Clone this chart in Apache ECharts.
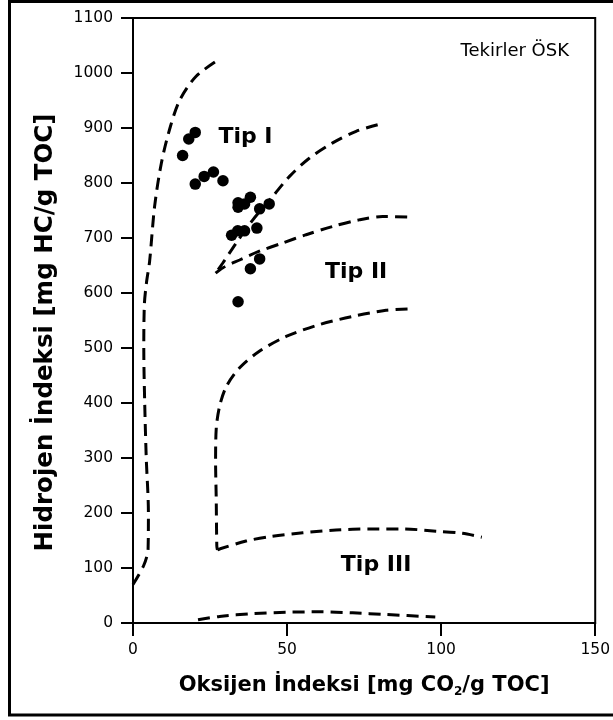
<!DOCTYPE html>
<html>
<head>
<meta charset="utf-8">
<script src="https://cdn.jsdelivr.net/npm/echarts@6/dist/echarts.min.js"></script>
<style>
  html, body { margin: 0; padding: 0; background: #fff; }
  #chart { width: 613px; height: 720px; }
</style>
</head>
<body>
<div id="chart"></div>
<script>
// ---- Data ----
var xTicks = [0, 50, 100, 150];
var yTicks = [0, 100, 200, 300, 400, 500, 600, 700, 800, 900, 1000, 1100];

// Sample points: Oxygen Index (x) and Hydrogen Index (y)
var oxygenIndex   = [20.2, 18.1, 16.1, 20.2, 23.1, 26.1, 29.2, 34.1, 34.1, 36.2, 38.1, 41.1, 44.2, 32.0, 34.0, 36.2, 40.2, 41.1, 38.1, 34.1];
var hydrogenIndex = [892, 880, 850, 798, 812, 820, 804, 764, 756, 762, 774, 753, 762, 705, 713, 713, 718, 662, 644, 584];

// Kerogen-type boundary curves (dashed)
var curveTypeIOuter = [[0,70],[3.5,105],[4.9,135],[5,200],[4.3,300],[3.8,400],[3.5,500],[3.7,580],[4.4,620],[5.4,658],[7,757],[9.2,836],[12,900],[15.2,951],[20.5,994],[28,1025]];
var curveTypeIUpper = [[79.4,906],[72.4,894],[64.8,873],[57.2,845],[50.8,812],[45.4,776],[38.9,733],[33.5,691],[29.2,655],[26.8,636]];
var curveTypeILower = [[26.8,636],[29.2,646],[34.6,660],[41,676],[48.6,691],[56.2,706],[64.8,721],[73.4,733],[81,739],[89.1,738]];
var curveTypeIIUpper = [[89.1,571],[82.1,568.5],[71.3,557.5],[60.5,542.5],[49.7,521],[41,494],[34.6,464],[30.3,430],[28.1,394],[27,352],[26.8,291],[27,230],[27.2,140],[27.4,133]];
var curveTypeIILower = [[27.4,133],[28.3,135],[36.7,149],[44.3,157],[55.1,164],[65.9,169],[76.7,171],[87.5,171],[98.3,167],[106.9,163],[113.2,156]];
var curveTypeIII = [[21.1,6],[28.1,12],[38.9,17],[49.7,19.6],[60.5,20.3],[71.3,18.5],[82.1,15.4],[98.1,11]];

// Region labels
var regionNames = ['Tip I', 'Tip II', 'Tip III'];
var regionX = [36.5, 72.4, 78.9];
var regionY = [884, 638, 105];

var titleText = 'Tekirler ÖSK';
var xName = 'Oksijen İndeksi [mg CO{sub|2}/g TOC]';
var yName = 'Hidrojen İndeksi [mg HC/g TOC]';

// ---- Build chart ----
var FONT = '"DejaVu Sans", "Liberation Sans", Arial, sans-serif';
var dash = { color: '#000', width: 3, type: [12, 7], opacity: 1 };

function curveSeries(name, data) {
  return {
    name: name, type: 'line', data: data, showSymbol: false, symbol: 'none',
    smooth: 0.3, lineStyle: dash, silent: true, z: 2
  };
}

var regionData = regionNames.map(function (n, i) { return { name: n, value: [regionX[i], regionY[i]] }; });
var pointData = oxygenIndex.map(function (x, i) { return [x, hydrogenIndex[i]]; });

var chart = echarts.init(document.getElementById('chart'), null, { renderer: 'canvas' });
chart.setOption({
  backgroundColor: '#fff',
  animation: false,
  title: {
    text: titleText, right: 39, top: 37,
    textStyle: { fontFamily: FONT, fontSize: 18, fontWeight: 'normal', color: '#000' }
  },
  grid: {
    left: 133, right: 17, top: 18, bottom: 97,
    show: true, borderColor: '#000', borderWidth: 2, backgroundColor: 'transparent'
  },
  xAxis: {
    type: 'value', min: 0, max: 150, interval: 50,
    name: xName, nameLocation: 'middle', nameGap: 51,
    nameTextStyle: {
      fontFamily: FONT, fontSize: 21, fontWeight: 'bold', color: '#000',
      rich: {
        sub: { fontFamily: FONT, fontSize: 12, fontWeight: 'bold', color: '#000', padding: [12, 0, 0, 0] }
      }
    },
    axisLine: { show: true, onZero: false, lineStyle: { color: '#000', width: 2 } },
    axisTick: { show: true, inside: false, length: 13, lineStyle: { color: '#000', width: 2 } },
    axisLabel: { margin: 19, fontFamily: FONT, fontSize: 15.5, color: '#000',
      formatter: function (v) { return xTicks.indexOf(v) >= 0 ? String(v) : ''; } },
    splitLine: { show: false }
  },
  yAxis: {
    type: 'value', min: 0, max: 1100, interval: 100,
    name: yName, nameLocation: 'middle', nameGap: 75,
    nameTextStyle: { fontFamily: FONT, fontSize: 24.5, fontWeight: 'bold', color: '#000', padding: [0, 24, 0, 0] },
    axisLine: { show: true, onZero: false, lineStyle: { color: '#000', width: 2 } },
    axisTick: { show: true, inside: false, length: 12, lineStyle: { color: '#000', width: 2 } },
    axisLabel: { margin: 20, fontFamily: FONT, fontSize: 15.5, color: '#000',
      formatter: function (v) { return yTicks.indexOf(v) >= 0 ? String(v) : ''; } },
    splitLine: { show: false }
  },
  graphic: [{
    type: 'rect', silent: true, z: 100,
    shape: { x: 9.5, y: 1.5, width: 640, height: 713.5 },
    style: { fill: 'none', stroke: '#000', lineWidth: 3 }
  }],
  series: [
    curveSeries('typeIOuter', curveTypeIOuter),
    curveSeries('typeIUpper', curveTypeIUpper),
    curveSeries('typeILower', curveTypeILower),
    curveSeries('typeIIUpper', curveTypeIIUpper),
    curveSeries('typeIILower', curveTypeIILower),
    curveSeries('typeIII', curveTypeIII),
    {
      name: 'samples', type: 'scatter', data: pointData, symbol: 'circle', symbolSize: 11.5,
      itemStyle: { color: '#000', opacity: 1 }, z: 3, silent: true
    },
    {
      name: 'regions', type: 'scatter', data: regionData, symbolSize: 0, silent: true, z: 4,
      itemStyle: { color: '#000', opacity: 1 },
      label: {
        show: true, position: 'inside', formatter: '{b}', opacity: 1,
        fontFamily: FONT, fontSize: 22, fontWeight: 'bold', color: '#000'
      }
    }
  ]
});
</script>
</body>
</html>
